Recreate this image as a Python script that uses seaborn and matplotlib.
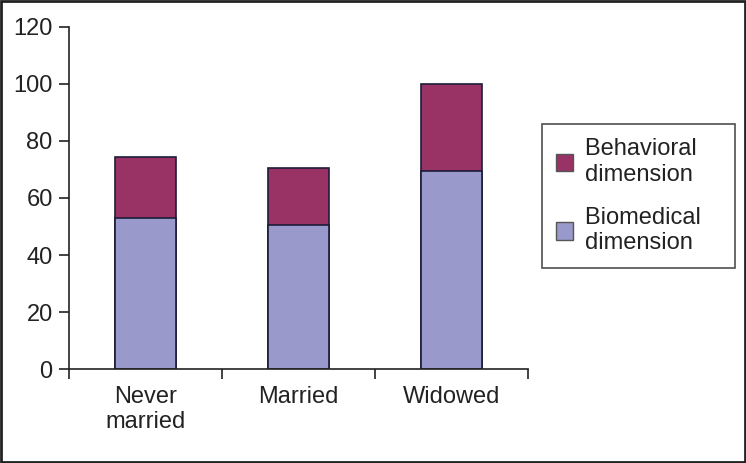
import numpy as np
import pandas as pd
import matplotlib
matplotlib.use("Agg")
import matplotlib.pyplot as plt
import seaborn as sns
from matplotlib.patches import Patch, Rectangle

categories = ["Never\nmarried", "Married", "Widowed"]
biomedical = [53, 50.6, 69.6]
behavioral = [21.3, 19.8, 30.4]
y_ticks = [0, 20, 40, 60, 80, 100, 120]

totals = [a + b for a, b in zip(biomedical, behavioral)]
df = pd.DataFrame({"cat": categories, "bio": biomedical, "total": totals})

sns.set_style("white")
plt.rcParams["font.family"] = ["Liberation Sans", "DejaVu Sans"]

behav_col = "#993366"
bio_col = "#9999CC"
edge = "#1c1c38"
fs = 17

fig = plt.figure(figsize=(7.46, 4.63), dpi=100)
ax = fig.add_axes([0.0929, 0.2024, 0.6149, 0.740])

sns.barplot(data=df, x="cat", y="total", color=behav_col, saturation=1,
            width=0.4, edgecolor=edge, linewidth=1.2, ax=ax)
sns.barplot(data=df, x="cat", y="bio", color=bio_col, saturation=1,
            width=0.4, edgecolor=edge, linewidth=1.2, ax=ax)

ax.set_xlim(-0.5, 2.5)
ax.set_ylim(0, 120)
ax.set_yticks(y_ticks)
ax.set_xlabel("")
ax.set_ylabel("")

# tick marks between categories, labels at category centres
ax.set_xticks([-0.5, 0.5, 1.5, 2.5])
ax.set_xticklabels([])
ax.set_xticks([0, 1, 2], minor=True)
ax.set_xticklabels(categories, minor=True, fontsize=fs, color="#222222")
ax.tick_params(axis="x", which="major", direction="out", length=7, width=1.2,
               color="#222222", bottom=True)
ax.tick_params(axis="x", which="minor", length=0, pad=12)
ax.tick_params(axis="y", direction="out", length=7, width=1.2, color="#222222",
               labelsize=fs, labelcolor="#222222", left=True, pad=5)

sns.despine(ax=ax)
for s in ["left", "bottom"]:
    ax.spines[s].set_color("#222222")
    ax.spines[s].set_linewidth(1.2)

handles = [Patch(facecolor=behav_col, edgecolor="#555555", label="Behavioral   \ndimension"),
           Patch(facecolor=bio_col, edgecolor="#555555", label="Biomedical   \ndimension")]
leg = fig.legend(handles=handles, loc="upper left", bbox_to_anchor=(0.726, 0.732),
                 fontsize=fs, frameon=True, fancybox=False, handlelength=0.75,
                 handleheight=0.75, handletextpad=0.5, labelspacing=0.9,
                 borderpad=0.6, borderaxespad=0)
leg.get_frame().set_edgecolor("#222222")
leg.get_frame().set_linewidth(1.2)
for t in leg.get_texts():
    t.set_color("#222222")

fig.patches.append(Rectangle((0.002, 0.003), 0.996, 0.994, transform=fig.transFigure,
                             fill=False, edgecolor="#222222", linewidth=2))

fig.savefig("out.png", dpi=100)
